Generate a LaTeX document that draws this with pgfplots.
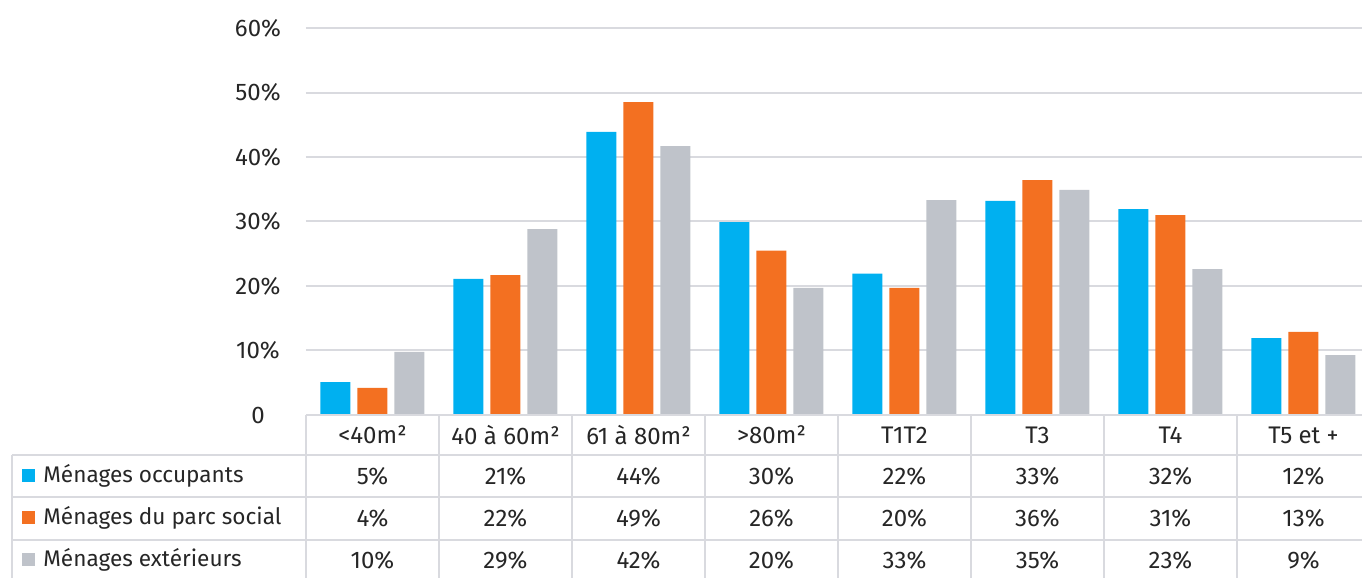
\documentclass[border=0pt]{standalone}
\usepackage{pgfplots}
\pgfplotsset{compat=1.18}
\usepackage{pgfplotstable}
\usepackage{fontspec}
\setmainfont{Fira Sans}
\definecolor{cblue}{HTML}{00B0F0}
\definecolor{corange}{HTML}{F37021}
\definecolor{cgray}{HTML}{BFC3CA}
\definecolor{lgray}{HTML}{D9DADF}
\definecolor{txt}{HTML}{262626}
\pgfplotstableread{
x occ soc ext
0 5.1 4.2 9.8
1 21.1 21.7 28.8
2 43.9 48.5 41.7
3 29.9 25.5 19.7
4 21.9 19.7 33.3
5 33.2 36.4 34.9
6 31.9 31.0 22.6
7 11.9 12.9 9.3
}\datatable
\begin{document}
\begin{tikzpicture}[every node/.style={text=txt}]
\useasboundingbox (-153pt,-81.5pt) rectangle (528pt,207.5pt);
\begin{axis}[at={(0,0)}, anchor=south west, scale only axis,
  width=532pt, height=193.5pt,
  xmin=-0.5, xmax=7.5, ymin=0, ymax=60,
  ytick={0,10,20,30,40,50,60},
  yticklabels={0,10\%,20\%,30\%,40\%,50\%,60\%},
  axis line style={draw=none}, xtick=\empty, major tick length=0,
  ymajorgrids, grid style={lgray, line width=1pt},
  ybar=3.5pt, bar width=15pt,
  yticklabel style={anchor=center, xshift=-24pt, font=\fontsize{12}{14}\selectfont, text=txt},
  clip=false]
\addplot[fill=cblue, draw=none] table[x=x,y=occ] {\datatable};
\addplot[fill=corange, draw=none] table[x=x,y=soc] {\datatable};
\addplot[fill=cgray, draw=none] table[x=x,y=ext] {\datatable};
\end{axis}
% table lines
\begin{scope}[lgray, line width=1pt]
\draw (0,0) -- (532pt,0);
\foreach \y in {-20pt,-41pt,-62.5pt} \draw (-147pt,\y) -- (532pt,\y);
\foreach \k in {0,...,7} \draw (\k*66.5pt,0) -- (\k*66.5pt,-81.5pt);
\draw (-147pt,-20pt) -- (-147pt,-81.5pt);
\end{scope}
% header
\def\fs{\fontsize{12}{14}\selectfont}
\def\fl{\fontsize{11.3}{13}\selectfont}
\foreach \lab [count=\i from 0] in {<40m²,40 à 60m²,61 à 80m²,>80m²,T1T2,T3,T4,T5 et +}
  \node[font=\fs] at (\i*66.5pt+33.25pt,-10pt) {\lab};
\foreach \v [count=\i from 0] in {5,21,44,30,22,33,32,12}
  \node[font=\fs] at (\i*66.5pt+33.25pt,-30.5pt) {\v\%};
\foreach \v [count=\i from 0] in {4,22,49,26,20,36,31,13}
  \node[font=\fs] at (\i*66.5pt+33.25pt,-51.5pt) {\v\%};
\foreach \v [count=\i from 0] in {10,29,42,20,33,35,23,9}
  \node[font=\fs] at (\i*66.5pt+33.25pt,-72.5pt) {\v\%};
% legend cells
\fill[cblue] (-142pt,-33.75pt) rectangle (-135.5pt,-27.25pt);
\fill[corange] (-142pt,-54.75pt) rectangle (-135.5pt,-48.25pt);
\fill[cgray] (-142pt,-75.75pt) rectangle (-135.5pt,-69.25pt);
\node[font=\fl, anchor=west, inner sep=0pt] at (-131.5pt,-30.5pt) {Ménages occupants};
\node[font=\fl, anchor=west, inner sep=0pt] at (-131.5pt,-51.5pt) {Ménages du parc social};
\node[font=\fl, anchor=west, inner sep=0pt] at (-131.5pt,-72.5pt) {Ménages extérieurs};
\end{tikzpicture}
\end{document}
